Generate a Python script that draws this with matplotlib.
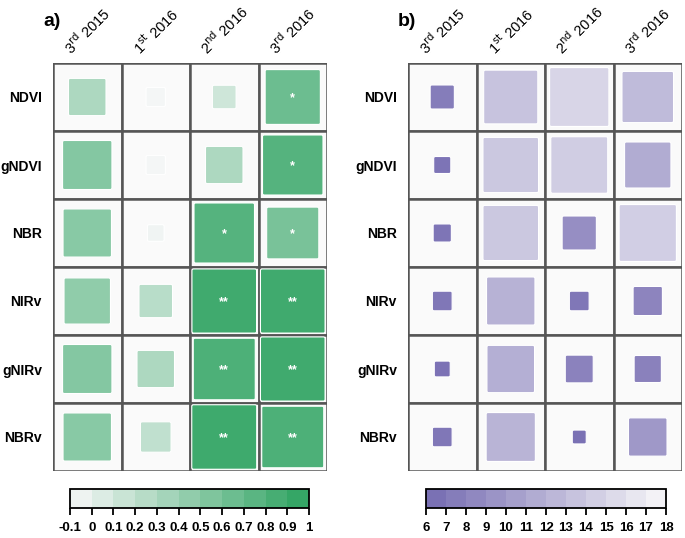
import numpy as np
import matplotlib
matplotlib.use('Agg')
from matplotlib import pyplot as plt
from matplotlib.patches import Rectangle, FancyBboxPatch
from matplotlib.colors import LinearSegmentedColormap, ListedColormap, Normalize, BoundaryNorm
from matplotlib.colorbar import ColorbarBase

plt.rcParams['font.family'] = ['Liberation Sans', 'DejaVu Sans']

rows = ['NDVI', 'gNDVI', 'NBR', 'NIRv', 'gNIRv', 'NBRv']
cols = ['3$^{\\rm rd}$ 2015', '1$^{\\rm st}$ 2016', '2$^{\\rm nd}$ 2016', '3$^{\\rm rd}$ 2016']

# a) correlation
corr = np.array([
    [0.30, -0.08, 0.12, 0.65],
    [0.52, -0.08, 0.30, 0.78],
    [0.50, -0.06, 0.78, 0.58],
    [0.46, 0.24, 0.89, 0.89],
    [0.52, 0.30, 0.82, 0.89],
    [0.50, 0.20, 0.90, 0.82],
])
stars = [
    ['', '', '', '*'],
    ['', '', '', '*'],
    ['', '', '*', '*'],
    ['', '', '**', '**'],
    ['', '', '**', '**'],
    ['', '', '**', '**'],
]
# b) error
err = np.array([
    [7.5, 13.5, 15.0, 12.8],
    [6.75, 13.9, 14.3, 11.5],
    [6.85, 13.9, 9.0, 14.4],
    [7.0, 12.0, 7.0, 8.2],
    [6.65, 11.8, 8.0, 7.9],
    [7.0, 12.2, 6.5, 9.8],
])

green = LinearSegmentedColormap.from_list('g', ['#f7f7f8', '#2ca25f'])
purple = LinearSegmentedColormap.from_list('p', ['#756bb1', '#f8f8f9'])

W, H = 685, 538
fig = plt.figure(figsize=(W / 100, H / 100), dpi=100)


def px(x0, y0, x1, y1):
    return [x0 / W, 1 - y1 / H, (x1 - x0) / W, (y1 - y0) / H]


def draw_panel(ax, vals, cmap, norm, size_frac, txt=None):
    ax.set_xlim(0, 4)
    ax.set_ylim(6, 0)
    for i in range(6):
        for j in range(4):
            ax.add_patch(Rectangle((j, i), 1, 1, facecolor='#fafafa',
                                   edgecolor='#555555', lw=1.8, zorder=1))
            s = min(size_frac[i, j], 0.96)
            ax.add_patch(FancyBboxPatch((j + 0.5 - s / 2, i + 0.5 - s / 2), s, s,
                                        boxstyle='round,pad=0,rounding_size=0.025',
                                        facecolor=cmap(norm(vals[i, j])),
                                        edgecolor='white', lw=0.8, zorder=2))
            if txt is not None and txt[i][j]:
                ax.text(j + 0.5, i + 0.52, txt[i][j], color='white', fontweight='bold',
                        fontsize=9, ha='center', va='center', zorder=3)
    ax.xaxis.tick_top()
    ax.set_xticks(np.arange(4) + 0.5)
    ax.set_xticklabels(cols, rotation=45, ha='center', va='bottom', fontsize=10.5)
    ax.set_yticks(np.arange(6) + 0.5)
    ax.set_yticklabels(rows, fontsize=10, fontweight='bold')
    ax.tick_params(axis='x', length=0, pad=4)
    ax.tick_params(axis='y', length=0, pad=8)
    for sp in ax.spines.values():
        sp.set_visible(False)


ax1 = fig.add_axes(px(53, 63, 327, 471))
draw_panel(ax1, corr, green, Normalize(-0.1, 1), np.sqrt(np.abs(corr)), stars)
ax2 = fig.add_axes(px(408, 63, 682, 471))
draw_panel(ax2, err, purple, Normalize(6, 18), np.sqrt((err - 6) / 12))

fig.text(43 / W, 1 - 21 / H, 'a)', fontsize=14, fontweight='bold', ha='left', va='center')
fig.text(398 / W, 1 - 21 / H, 'b)', fontsize=14, fontweight='bold', ha='left', va='center')

# colorbars
gb = np.round(np.arange(-0.1, 1.0001, 0.1), 1)
cax1 = fig.add_axes(px(70, 489, 309, 508))
gcols = [green(Normalize(-0.1, 1)((gb[k] + gb[k + 1]) / 2)) for k in range(len(gb) - 1)]
cb1 = ColorbarBase(cax1, cmap=ListedColormap(gcols),
                   norm=BoundaryNorm(gb, len(gcols)), orientation='horizontal', ticks=gb)
cb1.set_ticklabels(['-0.1', '0'] + ['%.1f' % v for v in gb[2:-1]] + ['1'])

pb = np.arange(6, 19)
cax2 = fig.add_axes(px(426, 489, 666, 508))
pcols = [purple(Normalize(6, 18)(pb[k] + 0.5)) for k in range(len(pb) - 1)]
cb2 = ColorbarBase(cax2, cmap=ListedColormap(pcols),
                   norm=BoundaryNorm(pb, len(pcols)), orientation='horizontal', ticks=pb)

for cb in (cb1, cb2):
    cb.outline.set_linewidth(1.3)
    cb.ax.tick_params(direction='out', length=5, width=1.3, labelsize=9.5, pad=5)
    for t in cb.ax.get_xticklabels():
        t.set_fontweight('bold')

plt.savefig('out.png', dpi=100)
